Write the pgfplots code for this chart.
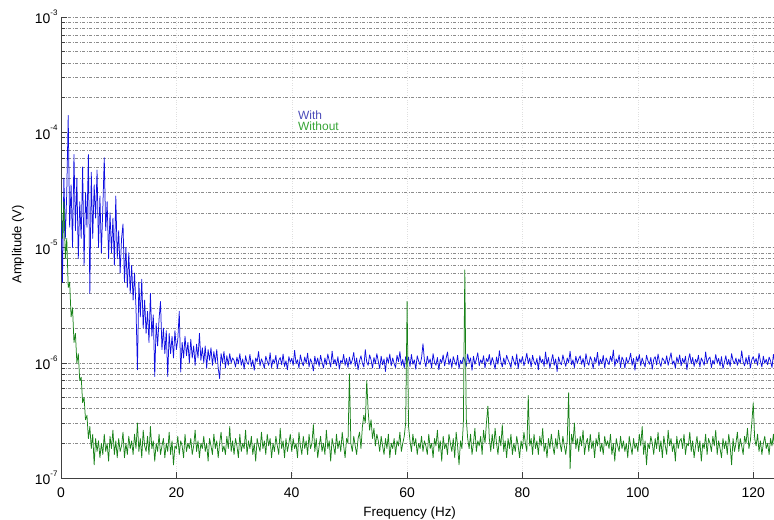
\documentclass[border=0pt]{standalone}
\usepackage{pgfplots}
\pgfplotsset{compat=1.18}
\usepackage{pgfplotstable}
\usepackage{fontspec}
\setmainfont{Liberation Sans}

\definecolor{withc}{RGB}{15,15,225}
\definecolor{withoutc}{RGB}{25,130,25}
\definecolor{withtxt}{RGB}{75,75,185}
\definecolor{withouttxt}{RGB}{55,165,55}

\newcommand{\tenp}[1]{10\raisebox{8.5bp}{\fontsize{8}{8}\selectfont #1}}

% amplitudes in microvolts, one value every 0.25 Hz from 0 Hz (10 values per line = 2.5 Hz)
\pgfplotstableread[row sep=\\]{
uv\\
25\\ 5\\ 40\\ 12\\ 30\\ 140\\ 15\\ 35\\ 10\\ 64\\
14\\ 40\\ 8\\ 25\\ 12\\ 50\\ 7\\ 30\\ 15\\ 64\\
4\\ 45\\ 12\\ 35\\ 18\\ 47\\ 10\\ 28\\ 9\\ 22\\
60\\ 14\\ 25\\ 8\\ 20\\ 9\\ 18\\ 7\\ 28\\ 8\\
14\\ 6\\ 12\\ 16\\ 5\\ 10\\ 4.5\\ 9\\ 4\\ 7\\
3.5\\ 6\\ 3\\ 0.87\\ 5\\ 2.5\\ 5.3\\ 2\\ 3.5\\ 1.8\\
2.8\\ 1.5\\ 4\\ 1.7\\ 2.6\\ 0.76\\ 2.2\\ 1.4\\ 2.4\\ 3.4\\
1.3\\ 2.0\\ 1.2\\ 1.9\\ 0.76\\ 1.8\\ 1.2\\ 1.7\\ 1.1\\ 1.9\\
1.3\\ 1.6\\ 2.8\\ 0.83\\ 1.5\\ 1.1\\ 1.7\\ 1.15\\ 1.5\\ 1.0\\
1.6\\ 1.1\\ 1.4\\ 0.95\\ 1.45\\ 1.1\\ 1.8\\ 1.05\\ 1.35\\ 1.0\\
1.4\\ 0.9\\ 1.3\\ 1.05\\ 1.35\\ 0.95\\ 1.25\\ 1.0\\ 1.3\\ 0.9\\
0.73\\ 1.2\\ 1.0\\ 1.25\\ 0.9\\ 1.15\\ 0.95\\ 1.2\\ 1.0\\ 1.1\\
1.05\\ 0.92\\ 1.12\\ 0.98\\ 1.2\\ 0.95\\ 1.08\\ 0.88\\ 1.15\\ 1.0\\
0.97\\ 1.18\\ 0.93\\ 1.06\\ 0.86\\ 1.1\\ 1.02\\ 1.25\\ 0.94\\ 1.08\\
1.0\\ 0.9\\ 1.14\\ 1.03\\ 0.95\\ 1.22\\ 0.91\\ 1.07\\ 0.99\\ 1.16\\
0.89\\ 1.05\\ 1.11\\ 0.96\\ 1.19\\ 0.93\\ 1.04\\ 0.87\\ 1.13\\ 1.01\\
1.09\\ 0.95\\ 1.28\\ 0.98\\ 1.06\\ 0.9\\ 1.17\\ 1.02\\ 0.94\\ 1.12\\
0.99\\ 1.21\\ 0.92\\ 1.08\\ 1.0\\ 0.85\\ 1.14\\ 0.97\\ 1.1\\ 0.93\\
1.16\\ 1.01\\ 0.9\\ 1.1\\ 0.96\\ 1.19\\ 1.04\\ 0.92\\ 1.26\\ 0.98\\
1.07\\ 0.94\\ 1.13\\ 0.88\\ 1.05\\ 1.0\\ 1.18\\ 0.95\\ 1.09\\ 0.91\\
1.12\\ 0.97\\ 1.06\\ 1.23\\ 0.93\\ 1.1\\ 0.87\\ 1.04\\ 1.15\\ 0.99\\
0.92\\ 1.3\\ 1.01\\ 0.95\\ 1.17\\ 1.06\\ 0.9\\ 1.11\\ 0.98\\ 1.2\\
1.03\\ 0.89\\ 1.14\\ 0.96\\ 1.08\\ 0.84\\ 1.12\\ 1.0\\ 1.19\\ 0.94\\
1.1\\ 0.98\\ 0.91\\ 1.16\\ 1.02\\ 1.25\\ 0.95\\ 1.07\\ 0.9\\ 1.13\\
1.0\\ 1.12\\ 0.93\\ 1.18\\ 0.97\\ 1.06\\ 0.88\\ 1.15\\ 1.03\\ 0.96\\
1.1\\ 1.46\\ 1.05\\ 0.92\\ 1.14\\ 0.99\\ 1.08\\ 0.9\\ 1.2\\ 1.01\\
0.95\\ 1.11\\ 0.87\\ 1.07\\ 1.0\\ 1.17\\ 0.94\\ 1.09\\ 1.24\\ 0.96\\
1.08\\ 0.91\\ 1.13\\ 1.02\\ 0.95\\ 1.16\\ 0.89\\ 1.05\\ 0.98\\ 1.12\\
1.04\\ 0.93\\ 1.19\\ 1.0\\ 1.1\\ 0.86\\ 1.14\\ 0.97\\ 1.07\\ 1.22\\
0.94\\ 1.06\\ 0.99\\ 1.15\\ 0.9\\ 1.09\\ 1.02\\ 1.18\\ 0.95\\ 1.11\\
1.01\\ 0.88\\ 1.12\\ 0.97\\ 1.27\\ 1.03\\ 0.92\\ 1.1\\ 0.96\\ 1.16\\
1.06\\ 0.99\\ 0.91\\ 1.14\\ 1.03\\ 0.95\\ 1.19\\ 0.89\\ 1.08\\ 1.0\\
1.13\\ 0.94\\ 1.05\\ 1.21\\ 0.98\\ 1.1\\ 0.92\\ 1.16\\ 1.02\\ 0.96\\
1.09\\ 0.87\\ 1.15\\ 1.0\\ 1.07\\ 0.93\\ 1.24\\ 0.97\\ 1.11\\ 0.9\\
1.04\\ 1.18\\ 0.95\\ 1.08\\ 0.84\\ 1.12\\ 1.01\\ 0.96\\ 1.17\\ 1.03\\
0.93\\ 1.1\\ 1.0\\ 1.26\\ 0.96\\ 1.06\\ 0.91\\ 1.14\\ 0.99\\ 1.08\\
1.15\\ 0.97\\ 1.09\\ 0.92\\ 1.2\\ 1.02\\ 0.95\\ 1.13\\ 1.05\\ 0.89\\
1.11\\ 1.0\\ 1.23\\ 0.94\\ 1.07\\ 0.98\\ 1.16\\ 0.9\\ 1.1\\ 1.03\\
0.96\\ 1.14\\ 1.02\\ 1.29\\ 0.93\\ 1.08\\ 1.0\\ 1.17\\ 0.91\\ 1.12\\
1.05\\ 0.9\\ 1.11\\ 0.99\\ 1.06\\ 1.21\\ 0.95\\ 1.09\\ 0.86\\ 1.13\\
1.02\\ 1.18\\ 0.94\\ 1.1\\ 1.0\\ 0.92\\ 1.16\\ 1.04\\ 0.97\\ 1.11\\
0.88\\ 1.07\\ 1.13\\ 0.96\\ 1.19\\ 1.01\\ 0.93\\ 1.1\\ 1.05\\ 0.98\\
1.15\\ 0.95\\ 1.08\\ 1.22\\ 0.97\\ 1.04\\ 0.9\\ 1.12\\ 1.0\\ 1.17\\
0.94\\ 1.09\\ 0.99\\ 1.14\\ 0.87\\ 1.06\\ 1.2\\ 0.98\\ 1.11\\ 0.93\\
1.07\\ 1.0\\ 1.16\\ 0.92\\ 1.1\\ 1.03\\ 0.95\\ 1.24\\ 0.99\\ 1.08\\
1.12\\ 0.91\\ 1.05\\ 0.97\\ 1.18\\ 1.0\\ 1.09\\ 0.94\\ 1.13\\ 0.89\\
1.01\\ 1.15\\ 0.96\\ 1.07\\ 0.93\\ 1.2\\ 1.04\\ 0.98\\ 1.1\\ 0.95\\
1.08\\ 0.99\\ 1.27\\ 1.02\\ 0.94\\ 1.11\\ 0.97\\ 1.16\\ 0.9\\ 1.06\\
1.13\\ 1.0\\ 1.09\\ 0.95\\ 1.21\\ 1.03\\ 0.92\\ 1.14\\ 0.99\\ 1.07\\
0.96\\ 1.12\\ 1.04\\ 0.91\\ 1.18\\ 1.0\\ 1.08\\ 0.97\\ 1.1\\ 1.02\\
}\withdata

\pgfplotstableread[row sep=\\]{
uv\\
30\\ 12\\ 25\\ 8\\ 12\\ 4.5\\ 5\\ 2.5\\ 3\\ 1.5\\
1.8\\ 1.0\\ 1.2\\ 0.7\\ 0.75\\ 0.45\\ 0.5\\ 0.32\\ 0.35\\ 0.22\\
0.28\\ 0.18\\ 0.24\\ 0.13\\ 0.22\\ 0.17\\ 0.21\\ 0.15\\ 0.2\\ 0.16\\
0.24\\ 0.17\\ 0.2\\ 0.14\\ 0.23\\ 0.18\\ 0.26\\ 0.16\\ 0.21\\ 0.15\\
0.22\\ 0.17\\ 0.19\\ 0.25\\ 0.15\\ 0.2\\ 0.16\\ 0.23\\ 0.18\\ 0.21\\
0.16\\ 0.24\\ 0.18\\ 0.3\\ 0.17\\ 0.22\\ 0.15\\ 0.26\\ 0.19\\ 0.17\\
0.23\\ 0.16\\ 0.28\\ 0.18\\ 0.21\\ 0.14\\ 0.2\\ 0.17\\ 0.24\\ 0.16\\
0.19\\ 0.22\\ 0.15\\ 0.2\\ 0.17\\ 0.25\\ 0.16\\ 0.21\\ 0.13\\ 0.19\\
0.18\\ 0.23\\ 0.16\\ 0.21\\ 0.19\\ 0.15\\ 0.24\\ 0.17\\ 0.2\\ 0.18\\
0.22\\ 0.16\\ 0.19\\ 0.26\\ 0.17\\ 0.21\\ 0.15\\ 0.2\\ 0.18\\ 0.23\\
0.17\\ 0.2\\ 0.14\\ 0.22\\ 0.19\\ 0.16\\ 0.24\\ 0.18\\ 0.21\\ 0.15\\
0.2\\ 0.25\\ 0.17\\ 0.19\\ 0.16\\ 0.23\\ 0.18\\ 0.28\\ 0.17\\ 0.21\\
0.16\\ 0.22\\ 0.19\\ 0.15\\ 0.24\\ 0.17\\ 0.2\\ 0.18\\ 0.26\\ 0.16\\
0.21\\ 0.18\\ 0.23\\ 0.16\\ 0.2\\ 0.14\\ 0.22\\ 0.19\\ 0.17\\ 0.25\\
0.18\\ 0.21\\ 0.16\\ 0.24\\ 0.19\\ 0.22\\ 0.15\\ 0.2\\ 0.17\\ 0.23\\
0.19\\ 0.16\\ 0.27\\ 0.18\\ 0.21\\ 0.15\\ 0.22\\ 0.17\\ 0.2\\ 0.24\\
0.17\\ 0.22\\ 0.18\\ 0.2\\ 0.15\\ 0.25\\ 0.19\\ 0.16\\ 0.23\\ 0.18\\
0.21\\ 0.16\\ 0.24\\ 0.18\\ 0.2\\ 0.29\\ 0.17\\ 0.22\\ 0.15\\ 0.19\\
0.23\\ 0.17\\ 0.2\\ 0.16\\ 0.26\\ 0.18\\ 0.21\\ 0.14\\ 0.22\\ 0.19\\
0.16\\ 0.24\\ 0.18\\ 0.21\\ 0.17\\ 0.25\\ 0.19\\ 0.15\\ 0.22\\ 0.2\\
0.8\\ 0.2\\ 0.17\\ 0.23\\ 0.19\\ 0.16\\ 0.22\\ 0.25\\ 0.18\\ 0.28\\
0.35\\ 0.3\\ 0.7\\ 0.38\\ 0.26\\ 0.32\\ 0.22\\ 0.27\\ 0.19\\ 0.24\\
0.21\\ 0.17\\ 0.23\\ 0.19\\ 0.16\\ 0.22\\ 0.18\\ 0.24\\ 0.15\\ 0.2\\
0.18\\ 0.22\\ 0.16\\ 0.21\\ 0.19\\ 0.25\\ 0.17\\ 0.2\\ 0.23\\ 0.3\\
3.4\\ 0.28\\ 0.21\\ 0.17\\ 0.24\\ 0.19\\ 0.22\\ 0.16\\ 0.2\\ 0.18\\
0.23\\ 0.17\\ 0.21\\ 0.19\\ 0.16\\ 0.24\\ 0.18\\ 0.2\\ 0.15\\ 0.22\\
0.19\\ 0.26\\ 0.17\\ 0.21\\ 0.14\\ 0.23\\ 0.18\\ 0.2\\ 0.16\\ 0.24\\
0.2\\ 0.17\\ 0.22\\ 0.15\\ 0.25\\ 0.19\\ 0.13\\ 0.21\\ 0.18\\ 0.3\\
6.4\\ 0.33\\ 0.22\\ 0.18\\ 0.24\\ 0.16\\ 0.2\\ 0.27\\ 0.17\\ 0.21\\
0.19\\ 0.23\\ 0.16\\ 0.26\\ 0.2\\ 0.3\\ 0.42\\ 0.22\\ 0.17\\ 0.24\\
0.18\\ 0.27\\ 0.2\\ 0.16\\ 0.23\\ 0.19\\ 0.29\\ 0.17\\ 0.21\\ 0.15\\
0.22\\ 0.18\\ 0.24\\ 0.16\\ 0.2\\ 0.17\\ 0.23\\ 0.19\\ 0.15\\ 0.21\\
0.18\\ 0.25\\ 0.2\\ 0.17\\ 0.52\\ 0.19\\ 0.22\\ 0.16\\ 0.24\\ 0.18\\
0.21\\ 0.16\\ 0.23\\ 0.19\\ 0.27\\ 0.17\\ 0.2\\ 0.15\\ 0.22\\ 0.18\\
0.24\\ 0.19\\ 0.16\\ 0.22\\ 0.18\\ 0.26\\ 0.2\\ 0.17\\ 0.23\\ 0.19\\
0.16\\ 0.21\\ 0.55\\ 0.12\\ 0.24\\ 0.2\\ 0.3\\ 0.18\\ 0.22\\ 0.17\\
0.23\\ 0.19\\ 0.26\\ 0.16\\ 0.2\\ 0.22\\ 0.17\\ 0.24\\ 0.18\\ 0.21\\
0.15\\ 0.22\\ 0.19\\ 0.25\\ 0.17\\ 0.2\\ 0.16\\ 0.23\\ 0.19\\ 0.21\\
0.18\\ 0.24\\ 0.16\\ 0.2\\ 0.14\\ 0.22\\ 0.19\\ 0.17\\ 0.23\\ 0.18\\
0.21\\ 0.17\\ 0.2\\ 0.15\\ 0.23\\ 0.19\\ 0.16\\ 0.22\\ 0.18\\ 0.2\\
0.17\\ 0.24\\ 0.19\\ 0.28\\ 0.16\\ 0.21\\ 0.13\\ 0.2\\ 0.18\\ 0.23\\
0.2\\ 0.16\\ 0.22\\ 0.18\\ 0.25\\ 0.17\\ 0.21\\ 0.15\\ 0.23\\ 0.19\\
0.16\\ 0.26\\ 0.19\\ 0.22\\ 0.17\\ 0.2\\ 0.14\\ 0.23\\ 0.18\\ 0.21\\
0.22\\ 0.18\\ 0.24\\ 0.16\\ 0.2\\ 0.19\\ 0.25\\ 0.17\\ 0.21\\ 0.15\\
0.19\\ 0.23\\ 0.17\\ 0.21\\ 0.14\\ 0.2\\ 0.18\\ 0.24\\ 0.16\\ 0.22\\
0.2\\ 0.17\\ 0.23\\ 0.19\\ 0.26\\ 0.16\\ 0.21\\ 0.18\\ 0.15\\ 0.22\\
0.18\\ 0.21\\ 0.16\\ 0.24\\ 0.19\\ 0.13\\ 0.22\\ 0.17\\ 0.2\\ 0.25\\
0.17\\ 0.22\\ 0.19\\ 0.16\\ 0.23\\ 0.2\\ 0.27\\ 0.18\\ 0.21\\ 0.3\\
0.45\\ 0.22\\ 0.19\\ 0.24\\ 0.17\\ 0.21\\ 0.16\\ 0.2\\ 0.23\\ 0.18\\
0.2\\ 0.16\\ 0.22\\ 0.19\\ 0.24\\ 0.17\\ 0.21\\ 0.18\\ 0.2\\ 0.19\\
}\withoutdata

\begin{document}
\begin{tikzpicture}
\begin{axis}[
    width=713bp, height=461bp,
    scale only axis,
    ymode=log,
    xmin=0, xmax=123.6,
    ymin=0.1, ymax=1000,
    xtick={0,20,40,60,80,100,120},
    ytick={0.1,1,10,100,1000},
    yticklabels={\tenp{-7},\tenp{-6},\tenp{-5},\tenp{-4},\tenp{-3}},
    /pgf/number format/assume math mode=true,
    axis lines*=left,
    axis line style={black!75, line width=0.5bp},
    every tick/.style={black!75, line width=0.5bp},
    major tick length=6bp,
    minor tick length=3.5bp,
    ymajorgrids=true, yminorgrids=true, xmajorgrids=true,
    major y grid style={black!45, line width=0.4bp, dash pattern=on 3bp off 1.5bp on 1bp off 1.5bp},
    minor y grid style={black!45, line width=0.4bp, dash pattern=on 3bp off 1.5bp on 1bp off 1.5bp},
    major x grid style={black!12, line width=0.4bp, dotted},
    tick label style={font=\fontsize{14}{14}\selectfont},
    xticklabel style={yshift=-6bp},
    xlabel={Frequency (Hz)},
    ylabel={Amplitude (V)},
    xlabel style={font=\fontsize{13.5}{14}\selectfont, at={(axis description cs:0.489,0)}, anchor=base, yshift=-38bp},
    ylabel style={font=\fontsize{13}{14}\selectfont, at={(axis description cs:0,0.507)}, anchor=center, yshift=43bp},
]
\addplot[no markers, color=withc, line width=0.75bp, line join=round] table[x expr=\coordindex*0.25, y=uv] {\withdata};
\addplot[no markers, color=withoutc, line width=0.75bp, line join=round] table[x expr=\coordindex*0.25, y=uv] {\withoutdata};
\node[anchor=base west, font=\fontsize{12}{12}\selectfont, text=withtxt, inner sep=0pt] at (rel axis cs:0.3324,0.7787) {With};
\node[anchor=base west, font=\fontsize{12}{12}\selectfont, text=withouttxt, inner sep=0pt] at (rel axis cs:0.3324,0.7538) {Without};
\coordinate (sw) at (rel axis cs:0,0);
\coordinate (ne) at (rel axis cs:1,1);
\end{axis}
\pgfresetboundingbox
\path ([shift={(-61bp,-42bp)}]sw) rectangle ([shift={(0bp,17bp)}]ne);
\end{tikzpicture}
\end{document}
